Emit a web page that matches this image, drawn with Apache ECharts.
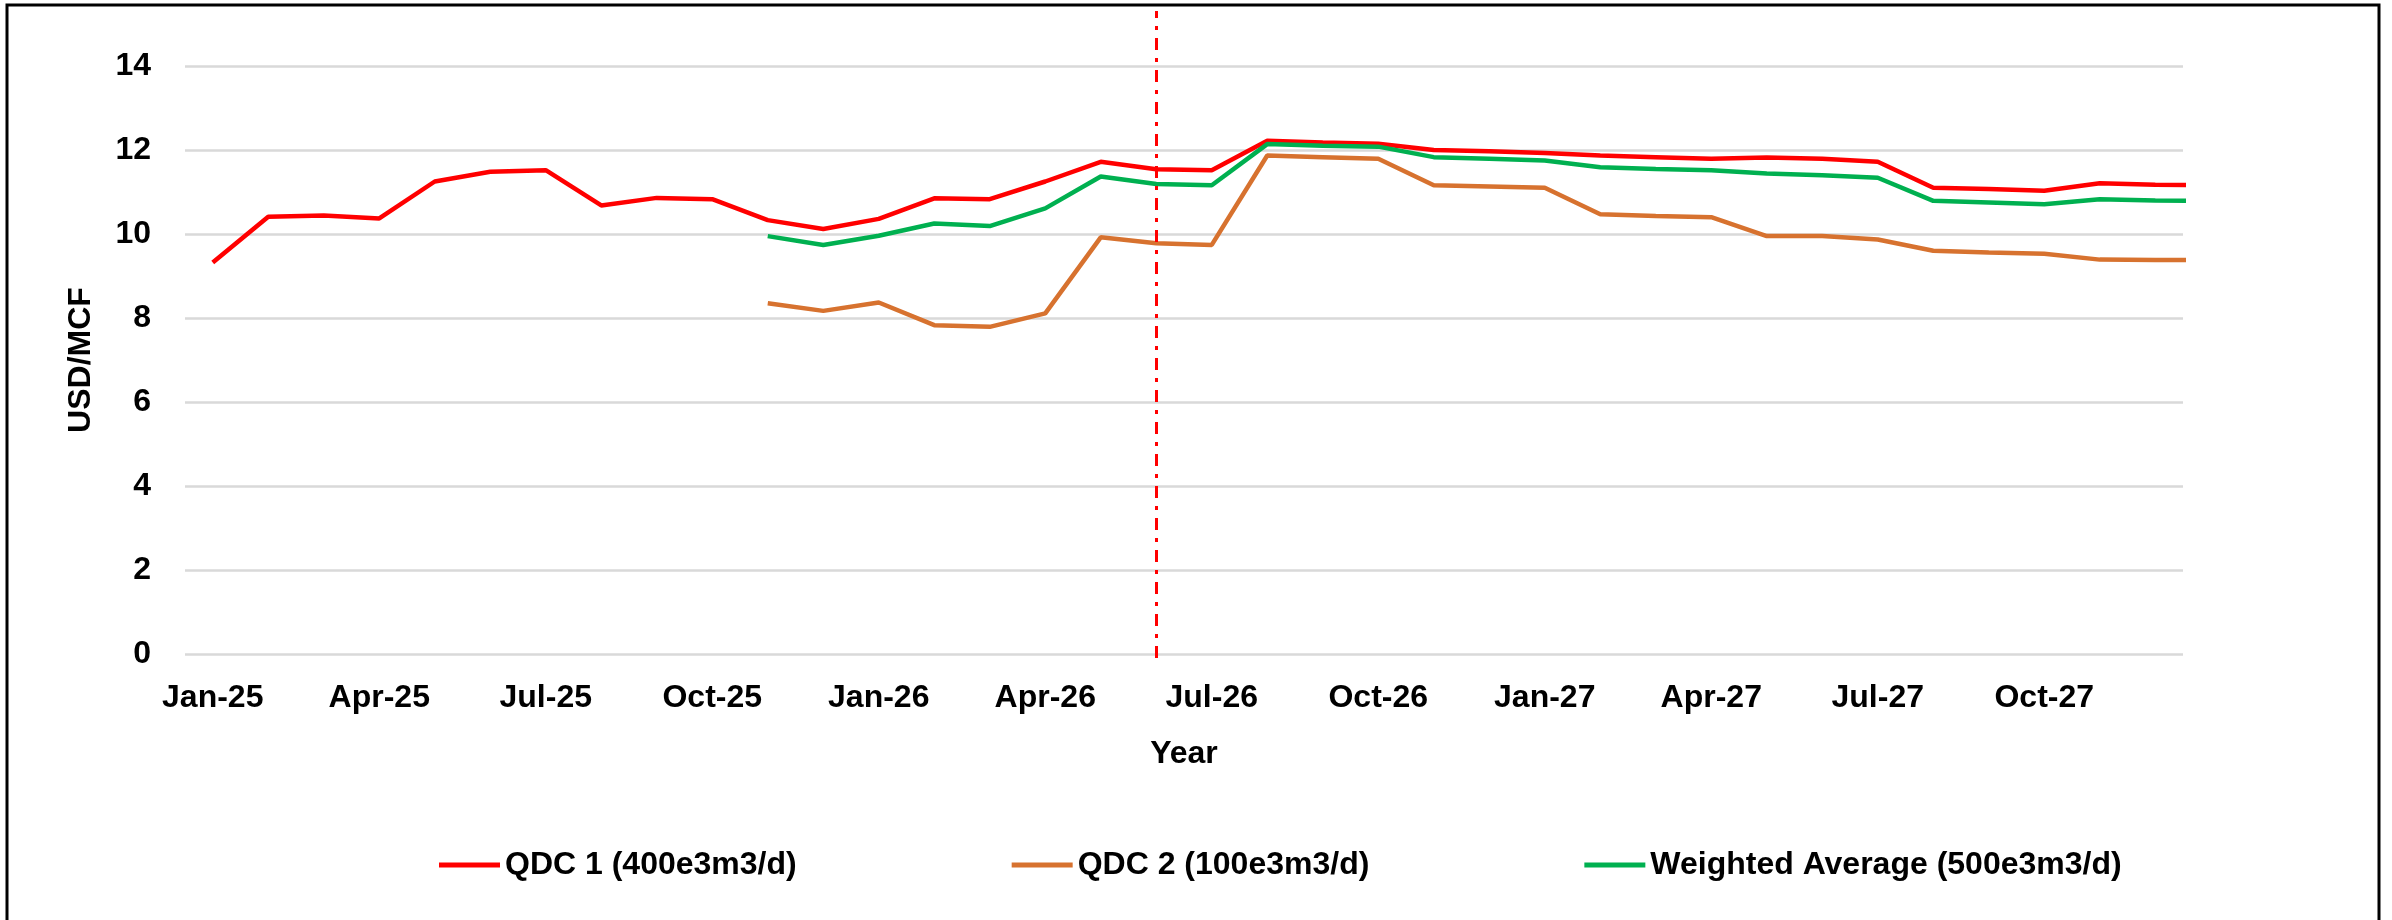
<!DOCTYPE html>
<html>
<head>
<meta charset="utf-8">
<script src="https://cdn.jsdelivr.net/npm/echarts@6/dist/echarts.min.js"></script>
<style>
  html, body { margin: 0; padding: 0; background: #ffffff; }
  #chart { width: 2392px; height: 920px; }
</style>
</head>
<body>
<div id="chart"></div>
<script>
// ---- Data ----
const months = ['Jan-25','Feb-25','Mar-25','Apr-25','May-25','Jun-25','Jul-25','Aug-25','Sep-25','Oct-25','Nov-25','Dec-25',
                'Jan-26','Feb-26','Mar-26','Apr-26','May-26','Jun-26','Jul-26','Aug-26','Sep-26','Oct-26','Nov-26','Dec-26',
                'Jan-27','Feb-27','Mar-27','Apr-27','May-27','Jun-27','Jul-27','Aug-27','Sep-27','Oct-27','Nov-27','Dec-27',
                'Jan-28'];
const lastShownIndex = 35; // Dec-27 is the last full slot; Jan-28 runs off the plot edge
const qdc1 = [9.32,10.41,10.44,10.37,11.25,11.48,11.52,10.68,10.86,10.83,10.33,10.12,
              10.36,10.85,10.83,11.25,11.72,11.54,11.52,12.22,12.18,12.15,12.00,11.97,
              11.93,11.87,11.83,11.79,11.82,11.79,11.72,11.10,11.07,11.03,11.21,11.17,
              11.16];
const qdc2 = [null,null,null,null,null,null,null,null,null,null,8.35,8.17,
              8.37,7.83,7.79,8.11,9.92,9.78,9.74,11.87,11.83,11.79,11.16,11.13,
              11.10,10.47,10.43,10.40,9.95,9.95,9.87,9.60,9.56,9.53,9.39,9.38,
              9.38];
const weighted = [null,null,null,null,null,null,null,null,null,null,9.95,9.74,
                  9.96,10.25,10.19,10.61,11.37,11.19,11.16,12.14,12.10,12.08,11.83,11.79,
                  11.75,11.59,11.55,11.52,11.44,11.40,11.34,10.79,10.75,10.71,10.83,10.80,
                  10.78];
const seriesNames = ['QDC 1 (400e3m3/d)', 'QDC 2 (100e3m3/d)', 'Weighted Average (500e3m3/d)'];
const dividerMonth = 'Jun-26';
const yTicks = { min: 0, max: 14, interval: 2 };

// ---- Chart ----
const FONT = '"Liberation Sans", Arial, sans-serif';
const chart = echarts.init(document.getElementById('chart'), null, { renderer: 'canvas' });

const option = {
  backgroundColor: '#ffffff',
  animation: false,
  textStyle: { fontFamily: FONT },
  graphic: [{
    type: 'rect', silent: true, z: 100,
    shape: { x: 7, y: 5, width: 2372, height: 960 },
    style: { fill: 'none', stroke: '#000000', lineWidth: 3 }
  }],
  grid: [
    { left: 185, right: 209, top: 66, bottom: 266 },
    { left: 185, right: 209, top: 11, bottom: 262 }
  ],
  legend: {
    data: seriesNames,
    left: 434, top: 843,
    icon: 'rect', itemWidth: 61, itemHeight: 5, itemGap: 215,
    textStyle: { fontFamily: FONT, fontSize: 32, fontWeight: 'bold', color: '#000', lineHeight: 34 }
  },
  xAxis: [{
    type: 'category', gridIndex: 0, data: months, max: lastShownIndex, boundaryGap: true,
    name: 'Year', nameLocation: 'middle', nameGap: 84,
    nameTextStyle: { fontFamily: FONT, fontSize: 32, fontWeight: 'bold', color: '#000' },
    axisLine: { show: false }, axisTick: { show: false },
    axisLabel: { interval: 2, margin: 28, fontFamily: FONT, fontSize: 32, fontWeight: 'bold', color: '#000' },
    splitLine: { show: false }
  }, {
    type: 'category', gridIndex: 1, data: months, max: lastShownIndex, boundaryGap: true, show: false
  }],
  yAxis: [{
    type: 'value', gridIndex: 0, min: yTicks.min, max: yTicks.max, interval: yTicks.interval,
    name: 'USD/MCF', nameLocation: 'middle', nameGap: 88, nameRotate: 90,
    nameTextStyle: { fontFamily: FONT, fontSize: 32, fontWeight: 'bold', color: '#000' },
    axisLine: { show: false }, axisTick: { show: false },
    axisLabel: { margin: 34, fontFamily: FONT, fontSize: 32, fontWeight: 'bold', color: '#000' },
    splitLine: { show: true, lineStyle: { color: '#D9D9D9', width: 2.5 } }
  }, {
    type: 'value', gridIndex: 1, min: 0, max: 1, show: false, splitLine: { show: false }
  }],
  series: [
    { name: seriesNames[0], type: 'line', xAxisIndex: 0, yAxisIndex: 0, data: qdc1,
      showSymbol: false, symbol: 'none', color: '#FF0000', lineStyle: { color: '#FF0000', width: 4.5 } },
    { name: seriesNames[1], type: 'line', xAxisIndex: 0, yAxisIndex: 0, data: qdc2,
      showSymbol: false, symbol: 'none', color: '#D7722F', lineStyle: { color: '#D7722F', width: 4.5 } },
    { name: seriesNames[2], type: 'line', xAxisIndex: 0, yAxisIndex: 0, data: weighted,
      showSymbol: false, symbol: 'none', color: '#00B050', lineStyle: { color: '#00B050', width: 4.5 } },
    { name: 'divider', type: 'line', xAxisIndex: 1, yAxisIndex: 1, data: [],
      silent: true,
      markLine: {
        silent: true, symbol: ['none', 'none'], label: { show: false },
        lineStyle: { color: '#FF0000', width: 3, type: [12, 8, 4, 8] },
        data: [{ xAxis: dividerMonth }]
      }
    }
  ]
};
chart.setOption(option);
</script>
</body>
</html>
